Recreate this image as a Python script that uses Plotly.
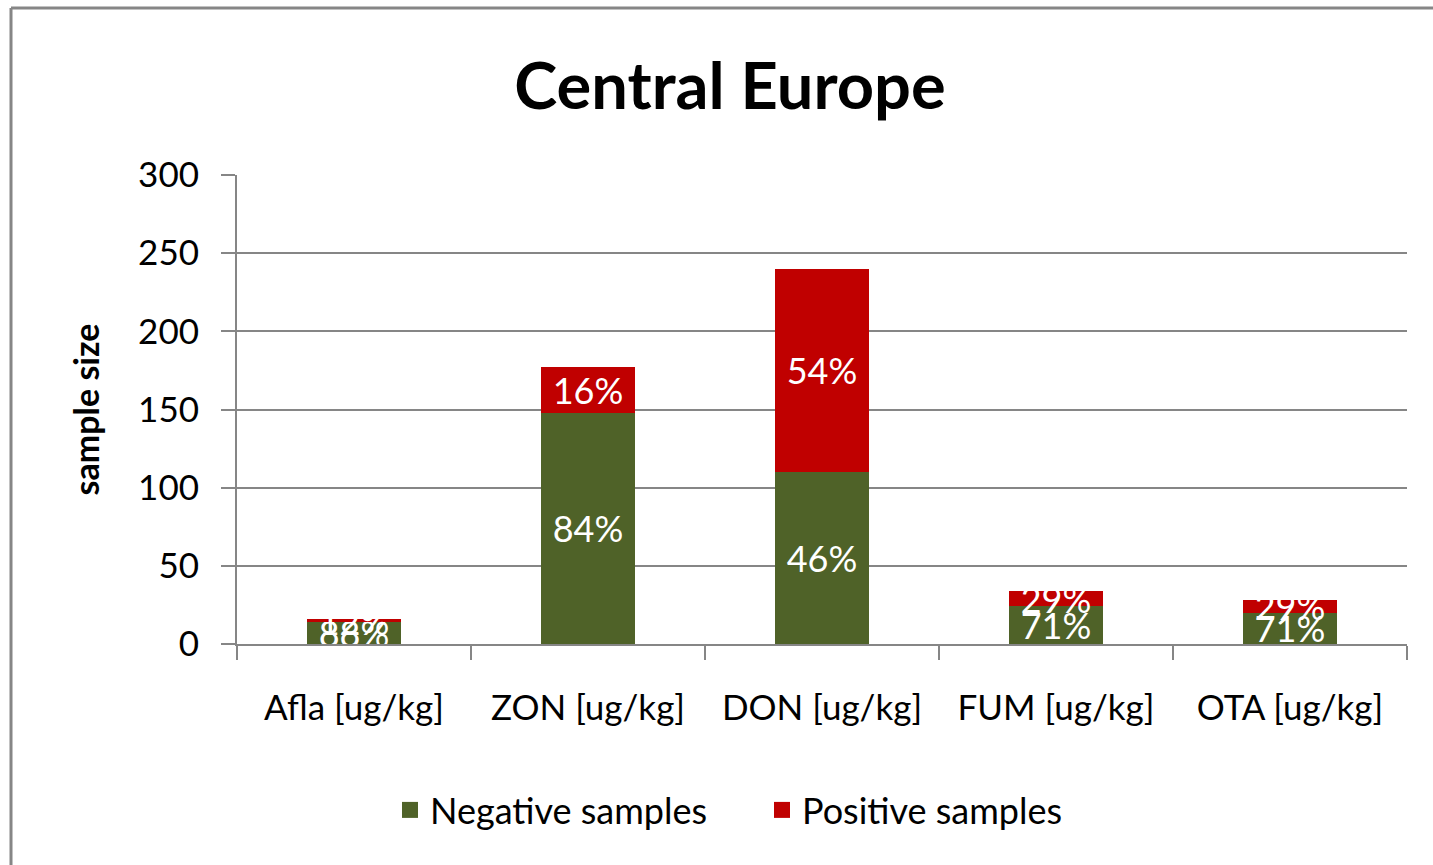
import plotly.graph_objects as go

categories = ["Afla [ug/kg]", "ZON [ug/kg]", "DON [ug/kg]", "FUM [ug/kg]", "OTA [ug/kg]"]
negative = [14, 148, 110, 24, 20]
positive = [2, 29, 130, 10, 8]
neg_labels = ["88%", "84%", "46%", "71%", "71%"]
pos_labels = ["12%", "16%", "54%", "29%", "29%"]
y_ticks = [0, 50, 100, 150, 200, 250, 300]
series_names = ["Negative samples", "Positive samples"]
series_colors = ["#4F6228", "#C00000"]

FONT = "Lato"
W, H = 1433, 865
L, R, T, B = 237, 26, 175, 221
PW, PH = W - L - R, H - T - B

fig = go.Figure()
for name, vals, labels, color in zip(series_names, [negative, positive],
                                     [neg_labels, pos_labels], series_colors):
    fig.add_trace(go.Bar(
        x=categories, y=vals, name=name, legendgroup=name, showlegend=False,
        marker=dict(color=color, line=dict(width=0)),
        text=labels, textposition="inside", insidetextanchor="middle",
        constraintext="none", textangle=0,
        textfont=dict(family=FONT, size=36, color="white"),
        cliponaxis=False, hoverinfo="x+y+name",
    ))
# legend entries with larger square swatches
for name, color in zip(series_names, series_colors):
    fig.add_trace(go.Scatter(
        x=[None], y=[None], mode="markers", name=name, legendgroup=name,
        marker=dict(symbol="square", size=22, color=color), showlegend=True,
    ))

fig.update_layout(
    width=W, height=H,
    barmode="stack", bargap=0.6,
    plot_bgcolor="white", paper_bgcolor="white",
    margin=dict(l=L, r=R, t=T, b=B),
    font=dict(family=FONT, color="black"),
    title=dict(text="<b>Central Europe</b>", x=730 / W, xref="container", xanchor="center",
               y=1 - 86 / H, yref="container", yanchor="middle",
               font=dict(family=FONT, size=65, color="black")),
    showlegend=True,
    legend=dict(orientation="h", x=(762 - L) / PW, xanchor="center",
                y=-(810 - (H - B)) / PH, yanchor="middle",
                font=dict(family=FONT, size=36), traceorder="normal",
                itemwidth=30, entrywidth=327, entrywidthmode="pixels", tracegroupgap=0),
    shapes=[
        dict(type="line", xref="paper", yref="paper",
             x0=-(L - 11) / PW, x1=1 + (R + 10) / PW,
             y0=1 + (T - 8) / PH, y1=1 + (T - 8) / PH,
             line=dict(color="#868686", width=3)),
        dict(type="line", xref="paper", yref="paper",
             x0=-(L - 11) / PW, x1=-(L - 11) / PW,
             y0=1 + (T - 8) / PH, y1=-(B + 10) / PH,
             line=dict(color="#868686", width=3)),
    ],
)
fig.update_xaxes(
    type="category", tickson="boundaries", ticks="outside", ticklen=14,
    tickcolor="#868686", tickwidth=2,
    showline=True, linecolor="#868686", linewidth=2,
    showgrid=False, tickfont=dict(family=FONT, size=35), ticklabelstandoff=32,
)
fig.update_yaxes(
    range=[0, 300], tickvals=y_ticks, ticks="outside", ticklen=14,
    tickcolor="#868686", tickwidth=2,
    showline=True, linecolor="#868686", linewidth=2,
    showgrid=True, gridcolor="#868686", gridwidth=2, zeroline=False,
    tickfont=dict(family=FONT, size=35), ticklabelstandoff=15,
    title=dict(text="<b>sample size</b>", font=dict(family=FONT, size=34), standoff=28),
)

fig.write_html("out.html", config={"displayModeBar": False},
               post_script="document.body.style.margin='0';document.body.style.overflow='hidden';")
